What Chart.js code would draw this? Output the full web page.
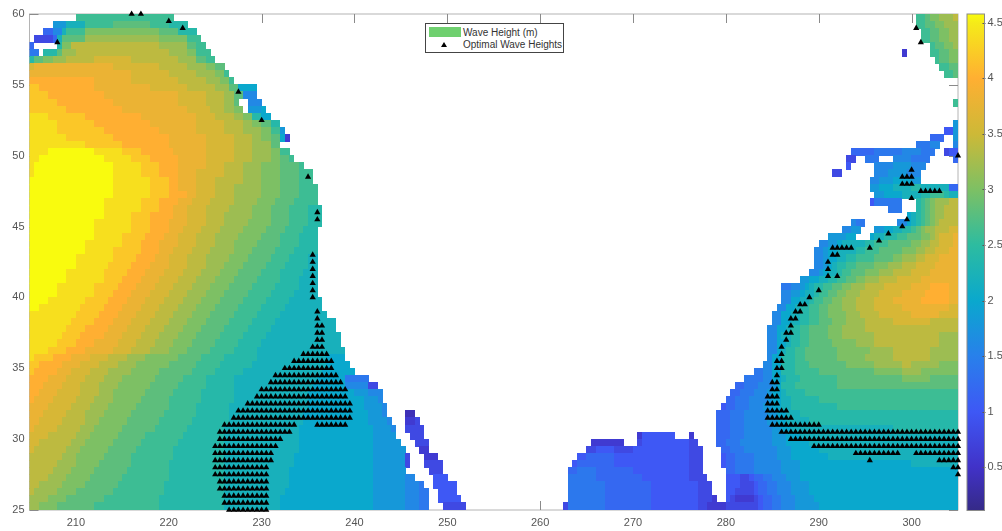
<!DOCTYPE html>
<html>
<head>
<meta charset="utf-8">
<title>Wave Height</title>
<script src="https://cdn.jsdelivr.net/npm/chart.js@4/dist/chart.umd.min.js"></script>
<style>
  html, body { margin: 0; padding: 0; background: #fff; }
  #wrap { position: relative; width: 1002px; height: 531px; overflow: hidden; font-family: "Liberation Sans", Arial, sans-serif; }
  #map { position: absolute; left: 0; top: 0; filter: blur(0.5px); }
  #bar { position: absolute; left: 960px; top: 0; filter: blur(0.4px); }
  #legend { position: absolute; left: 425px; top: 23px; width: 137px; height: 28px; background: #fff; border: 1px solid #444; font-size: 10px; color: #333; }
  #legend .patch { position: absolute; left: 3px; top: 3px; width: 32px; height: 10px; background: #6fd06f; }
  #legend .tri { position: absolute; left: 15px; top: 18px; width: 0; height: 0; border-left: 3px solid transparent; border-right: 3px solid transparent; border-bottom: 5px solid #000; }
  #legend .lab { position: absolute; left: 37px; white-space: nowrap; line-height: 12px; }
</style>
</head>
<body>
<div id="wrap">
  <canvas id="map" width="1002" height="531"></canvas>
  <canvas id="bar" width="42" height="531"></canvas>
  <div id="legend">
    <div class="patch"></div><div class="lab" style="top:3px">Wave Height (m)</div>
    <div class="tri"></div><div class="lab" style="top:15px">Optimal Wave Heights</div>
  </div>
</div>
<script>
const xTicks = [210, 220, 230, 240, 250, 260, 270, 280, 290, 300];
const yTicks = [25, 30, 35, 40, 45, 50, 55, 60];
const barTicks = [0.5, 1, 1.5, 2, 2.5, 3, 3.5, 4, 4.5];

// wave height per row, north to south, each row 0.5 deg of latitude from 60.
// token = level letter (a=0.2, b=0.4 ... w=4.6) + longitude where the run ends, "." = no data
const waveRows = [
  ".210 m220.5 .300.5 m301.5 n302 o303 p304.5 q305",
  ".207.5 i209 k211 m214 n218 m220 l222 .300.5 m301.5 n302.5 o303.5 p305",
  ".206.5 f207.5 h208.5 k209 m211 o219 n221 l223 .301 m302 n303 o304 p305",
  ".205.5 d207.5 f208 k208.5 n211 p219 o222 m223.5 .301 m302 n303 o304 p305",
  "f205.5 .208 l208.5 o209.5 q219 p222 n223 m224 .302 m302.5 n303.5 o304.5 p305",
  "g206 .206.5 l208 n208.5 p210 q220 p222 o223 m224.5 .299 c299.5 .302 m303 n304 o305",
  "l205.5 n206.5 o207.5 p209 q212 r216 q221 p223 n224 m225 .302.5 m303 n304 o305",
  "r205.5 s214 r219 q222 p224 o225 n226 .303 m304 n305",
  "s216 r220 q223 p225 o226 m226.5 .303.5 m304.5 n305",
  "t212 s216 r221 q224 p225.5 o226.5 m227",
  "u206 t212 s218 r222 q225 p226.5 n227.5 j229.5",
  "u207 t213 s221 r224 q226 p227 n228 h229.5",
  "u208 t214 s221 r224 q226 p227 n227.5 .228.5 h230 .304.5 m305",
  "u209 t215 s222 r224.5 q226 p227 o228 .228.5 i230 j230.5",
  "v207 u211 t217 s223 r225 q227 p228 o229 l230 j231",
  "v208 u212 t218 s223 r226 q228 p229 o230 n231 l232 .304.5 i305",
  "v208 u213 t219 s223 r226 q228 p230 o231 m232 i232.5 .303.5 e304.5 i305",
  "v209 u214 t220 s224 r227 q229 p230 o231 n232 j232.5 c233 .302 f303.5 .304.5 i305",
  "v211 u215 t220 s224 r227 q229 p231 n232 .300.5 g302 h303 .304.5 h305",
  "v207 w212 v215 u217 t220.5 s224 r227 q229 p231 o232 m233 .293.5 f296 g299 h301 g302.5 .303.5 d304 e305",
  "v206 w213 v216 u218 t221 s224 r227 q229 p231 o232 n233 m233.5 .293 d294 .295 g296.5 .298 h300 g302 .304.5 f305",
  "v205.5 w214 v217 u219 t221 s224 r226 q228 p230 o232 n234 m234.5 .293 e293.5 .296 h298 i300 h301.5",
  "v205.5 w214 v217 u219 t221 s223 r226 q228 p230 o232 n234 m235.5 .291.5 d292.5 .296 h297.5 i299.5 h301",
  "w214 v218 u220 t221 s223 r225 q228 p230 o232 n234 m235.5 .295.5 h296.5 i298 j300 i301",
  "w214 v218 u220 t221 s223 r225 q227 p230 o232 n234 m236 .295.5 i296.5 j298 k300 l301 k304 f305",
  "w214 v218 u220 t222 s223 r225 q227 p230 o232 n234 m236 .296 i297 j299 k301 l302 m303.5 l304 k305",
  "w213 v217 u219 t221 s222.5 r224.5 q227 p229.5 o231.5 n233.5 m236 .295.5 e296 g299 .300.5 l301 m301.5 n302 o302.5 p304 q305",
  "w213 v217 u219 t220.5 s222 r224 q226.5 p229 o231 n233 m235 l236.5 .297.5 g299 .300.5 l301 m301.5 n302 o302.5 p303.5 q305",
  "w213 v216 u218 t220.5 s222 r224 q226 p229 o231 n233 m235 l236.5 .299.5 j300 k300.5 l301 m301.5 n302 o302.5 p303.5 q305",
  "w212 v216 u218 t220 s222 r224 q226 p228.5 o231 n233 m235 l236.5 .293.5 h294 g295 .298.5 h299.5 j300 k300.5 l301 m301.5 n302 o302.5 p303 q305",
  "w212 v216 u218 t220 s221.5 r223.5 q225.5 p228 o230.5 n232.5 m234.5 l236 .292.5 h293.5 i294.5 .296 i297 j298 k299 l300 m300.5 n301 o301.5 p302.5 q304 r305",
  "w212 v215 u217.5 t219.5 s221 r223 q225 p227.5 o230 n232 m234 l236 .291 i293 j294 .295.5 j296 k297 l298.5 m299.5 n301 o302 p302.5 q303 r304.5 s305",
  "w211 v215 u217 t219 s221 r223 q225 p227 o229.5 n232 m234 l236 .290 h291 i292 j292.5 k295 l296 m297.5 n300 o301 p302 q303 r304.5 s305",
  "w211 v214 u217 t219 s220.5 r222.5 q224.5 p227 o229 n231.5 m233.5 l236 .289.5 h290.5 i291 j292 k294 l295 m296.5 n299 o300.5 p301.5 q302.5 r304 s305",
  "w210 v214 u216.5 t218.5 s220 r222 q224 p226.5 o228.5 n231 m233 l235 k236 .289.5 h290.5 i291 j292 k293 l294 m296 n298 o299 p300.5 q301.5 r303 s305",
  "w210 v213.5 u216 t218 s220 r222 q224 p226 o228 n230.5 m232.5 l235 k236 .289.5 h290.5 i291 j291.5 k292 l293 m294 n296 o297.5 p299 q300.5 r302.5 s305",
  "w209 v213 u215.5 t217.5 s219.5 r221.5 q223.5 p225.5 o227.5 n230 m232 l234.5 k236 .289 h290 i290.5 j291 k292 l292.5 m293.5 n295 o296.5 p298 q300 r302 s305",
  "w209 v213 u215 t217 s219 r221 q223 p225 o227 n229.5 m232 l234 k236 .288 i289 j290 k291 l292 m293 n294 o295 p296.5 q298.5 r301 s305",
  "w208 v212 u214.5 t216.5 s218.5 r220.5 q222.5 p224.5 o226.5 n229 m231.5 l234 k236 .286 g287 h288 i288.5 j289 k289.5 l290.5 m291.5 n292.5 o293.5 p295 q297 r300 s302 t304 s305",
  "w208 v212 u214 t216 s218 r220 q222 p224 o226 n228.5 m231 l233.5 k236 .286 h287 i288 j288.5 k289.5 l290 m291 n292 o293 p294.5 q296.5 r299 s301.5 t304 s305",
  "w207 v211 u213.5 t215.5 s217.5 r219.5 q221.5 p223.5 o225.5 n228 m230.5 l233 k236.5 .286 h287 j288 k289 l289.5 m290.5 n291.5 o292.5 p294 q296 r298 s301 t304 s305",
  "w206 v210.5 u213 t215 s217 r219 q221 p223 o225 n227.5 m230 l232.5 k236.5 .285.5 h286.5 j287.5 k288 l289 m290 n291 o292.5 p294 q296 r299 s304 r305",
  "v210 u212.5 t214.5 s216.5 r218.5 q220.5 p222.5 o224.5 n227 m229.5 l232 k237 .285 h286 j287 k288 l289 m290 n291 o293 p294.5 q296.5 r300 s303 r305",
  "v209.5 u212 t214 s216 r218 q220 p222 o224 n226.5 m229 l231.5 k238 .285 h286 j287 k288 l289 m290 n291.5 o293 p295 q298 r302 q305",
  "v209 u211 t213.5 s215.5 r217.5 q219.5 p221.5 o223.5 n226 m228.5 l231 k238 .284.5 h285.5 j286.5 k287 l288 m289 n291 o292.5 p295 q305",
  "v208.5 u210.5 t213 s215 r217 q219 p221 o223 n225.5 m228 l230.5 k238.5 .284.5 h285.5 j286 k287 l288 m289 n291 o292.5 p296 q303 p305",
  "v208 u210 t212 s214.5 r216.5 q218.5 p220.5 o222.5 n225 m227.5 l230 k238.5 .284.5 h285.5 j286.5 k287 l288 m289 n291.5 o294 p296 q303 p305",
  "v207 u209 t211 s214 r216 q218 p220 o222 n224.5 m227 l229.5 k239 .284.5 h285.5 j286 k286.5 l287.5 m288.5 n292 o295.5 p298 q302 p305",
  "v205.5 u207.5 t209.5 s211.5 r213.5 q215.5 p217.5 o221 n223.5 m226 l229.5 k237 j239 .284.5 h285 j286 l287.5 m288.5 n292 o295 p298 q302 p305",
  "u206 t208.5 s210.5 r212.5 q214.5 p216.5 o220 n223 m225.5 l229 k237 j239.5 .284 h285 j286 l287.5 m289 n293 o296 p299 q300 p303 o305",
  "u205.5 t208 s209.5 r211.5 q213.5 p216 o219 n222.5 m225 l228 k236.5 j240 .283 g284 h285 j286 l287.5 m290 n296 o299 p301 o305",
  "t207 s209 r211 q213 p215 o218.5 n221.5 m224 l227 k236 j239 g241.5 .282 g284 h285 j286 k286.5 l288 m292 n299 o302 n305",
  "t206.5 s208.5 r210.5 q212.5 p214.5 o218 n221 m224 l227 k235.5 j239 h241.5 d242.5 .281 f282 g283.5 h285 i285.5 j286 l287.5 m292 n305",
  "t206 s208 r210.5 q212.5 p214 o217.5 n220.5 m223.5 l227 k235 j240 i241.5 h243 .280.5 f281.5 g283 h284.5 i285 j286 k286.5 l288.5 m305",
  "t205.5 s207.5 r210 q212 p214 o217 n220 m223.5 l227 k235 j241 i242.5 h243 .280 f281 g282.5 h284.5 i285 j286 k287 l290 m305",
  "s207 r209.5 q211.5 p213.5 o216.5 n220 m223 l226.5 k235 j241 i243 h243.5 .279.5 e280 f281 g282.5 h284 i285 j286 k287 l292 m305",
  "s206.5 r209 q211 p213 o216 n219.5 m223 l226.5 k234.5 j241.5 i243 h243.5 .245.5 b246.5 .279 f280.5 g282 h284.5 i285.5 j286.5 k288 l305",
  "s206 r208.5 q211 p212.5 o215.5 n219 m222.5 l226.5 k234.5 j241.5 i243.5 h244 .245.5 c246.5 d247 .279 f280.5 g282 h284.5 i285.5 j286.5 k289 l305",
  "s205.5 r208 q210.5 p212 o215 n218.5 m222 l226 k234 j242 i244 h244.5 .245.5 d247.5 .279 f280.5 g282 h285 i286 j287 k298 l305",
  "r207 q210 p211.5 o214.5 n217.5 m221.5 l226 k234 j242 i244.5 .246 d247.5 .270.5 c271 e274.5 .276 c276.5 .279 f280.5 g282 h285 i286.5 j288 k305",
  "r206 q209.5 p211 o214 n217 m221 l226 k234 j242 i245 .246.5 d248 .265.5 c269 .270.5 d271 e276 d277 .279 f280 g281.5 h285 i286.5 j289 k305",
  "r205.5 q209 p210.5 o213.5 n216.5 m220.5 l226 k234 j242 i245.5 .247 c248 .265 d266 e268 d270 e276 d277.5 .279.5 f280.5 g282 h285.5 i287 j290 k305",
  "q208.5 p210 o213 n216 m220.5 l226 k233.5 j242 i245.5 d246 .247.5 c249 .264 e265 f268 e276 d277.5 .279.5 e280 f281 g283 h285.5 i287 j291 k305",
  "q208 p210 o212.5 n216 m220 l226 k233.5 j242 i245.5 d246 .247.5 d249.5 .263.5 e264 f268 e276 d277.5 .279.5 e280 f281 g283 h286 i288 j300 k305",
  "q207.5 p209.5 o212 n215.5 m220 l226 k233 j242 i245.5 .248 d249.5 .263 f264 g266 f270 e276 d277.5 .280 f281 g283 h286 i288 j305",
  "q207 p209 o211.5 n215 m220 l226 k233 j242 i245.5 h246.5 .248.5 e250 .263 g266 f271 e276 d278 .280 e281.5 d282.5 e283 f284 g285 h286.5 i288 j305",
  "q206 p208.5 o211 n214.5 m219.5 l226 k233 j242 i245.5 h247 g247.5 .248.5 e251 .263 g267 f272 e277 d278.5 .280 e281.5 d283 e283.5 f284.5 g285.5 h287 i289 j305",
  "q205.5 p208 o210 n214 m219.5 l226 k232.5 j242 i245.5 h247 g248 .249 e251 .263 g267 f272 e277 d278.5 .280 e281 d283 e283.5 f284.5 g285.5 h287 i289 j305",
  "p207 o209 n213 m219 l226 k232 j242 i245.5 h247 g248 .249 e251.5 .263 g267 f272 e277 d278.5 c279 .280 e280.5 d281 c283 d283.5 e284 f285 g286 h287.5 i289.5 j305",
  "p206 o208 n212 m219 l226 k232 j242 i245.5 h247 g248 .249.5 d252 .262.5 d263 g267 f272 e277 d278 c280 d283.5 e284 f285 g286 h287.5 i290 j305"
];

// optimal wave heights: latitude, then longitudes (a-b = every 0.5 deg between)
const optimalRows = [
  [60, "216 217"], [59.5, "220"], [59, "221.5 300.5"], [58, "208 301"], [54.5, "227.5"], [52.5, "230"],
  [50, "305"], [49, "300"], [48.5, "235 299-300"], [48, "299-300"], [47.5, "301-303"], [47, "300"],
  [46, "236"], [45.5, "236 299.5"], [45, "299"], [44.5, "297.5"], [44, "296.5"], [43.5, "291.5-293.5 295.5"],
  [43, "235.5 291.5-292"], [42.5, "235.5 291"], [42, "235.5 291"], [41.5, "235.5 291 292"], [41, "235.5"],
  [40.5, "235.5 290"], [40, "235.5 289"], [39.5, "288-288.5"], [39, "236 287.5-288"], [38.5, "236 287-287.5"],
  [38, "236-236.5 287"], [37.5, "236-236.5 286.5-287"], [37, "236-236.5 286.5"], [36.5, "235.5-236.5 286"],
  [36, "234.5-237 286"], [35.5, "233.5-237.5 285.5-286"], [35, "232.5-237.5 285.5-286"], [34.5, "231.5-238 285.5"],
  [34, "231-238.5 285-285.5"], [33.5, "230-239 285-285.5"], [33, "229.5-239 284.5-285.5"], [32.5, "228.5-239.5 284.5-285.5"],
  [32, "227.5-239.5 284.5-286.5"], [31.5, "227-239.5 284.5-287"], [31, "226-233.5 236-239 285-290"],
  [30.5, "225.5-233 286-305"], [30, "225.5-232 287-305"], [29.5, "225-231.5 289.5-305"], [29, "225-231 294-298.5 300.5-305"],
  [28.5, "225-231 295.5 303-305"], [28, "225-230.5 304.5-305"], [27.5, "225-230.5 305"], [27, "225.5-230.5"],
  [26.5, "225.5-230.5"], [26, "226-230.5"], [25.5, "226-230.5"], [25, "226.5-230.5"]
];

// colour ramp
const rampStops = [
  [0.11, 53, 42, 135], [0.5, 65, 50, 200], [1, 62, 88, 245], [1.5, 40, 128, 235], [2, 10, 168, 205],
  [2.5, 45, 188, 160], [3, 125, 192, 100], [3.5, 205, 185, 55], [4, 255, 175, 50], [4.5, 245, 235, 25], [4.58, 249, 251, 14]
];
const barMin = 0.11, barMax = 4.58;

function rampColor(v) {
  for (let i = 1; i < rampStops.length; i++) {
    const a = rampStops[i - 1], b = rampStops[i];
    if (v <= b[0]) {
      const t = Math.max(0, (v - a[0]) / (b[0] - a[0]));
      return `rgb(${[1, 2, 3].map(k => Math.round(a[k] + (b[k] - a[k]) * t)).join(",")})`;
    }
  }
  return "rgb(249,251,14)";
}

const cellImages = {};
function cellImage(v) {
  if (!cellImages[v]) {
    const c = document.createElement("canvas");
    c.width = 5;
    c.height = 8;
    const g = c.getContext("2d");
    g.fillStyle = rampColor(v);
    g.fillRect(0, 0, 5, 8);
    cellImages[v] = c;
  }
  return cellImages[v];
}

const cells = [];
waveRows.forEach((row, r) => {
  let lon = 205;
  row.split(" ").forEach(tok => {
    const end = parseFloat(tok.slice(1));
    if (tok[0] !== ".") {
      const v = (tok.charCodeAt(0) - 96) * 0.2;
      for (let x = lon; x < end; x += 0.5) cells.push({ x: x + 0.25, y: 60 - r * 0.5 - 0.25, v: v });
    }
    lon = end;
  });
});

const optimal = [];
optimalRows.forEach(([lat, lons]) => {
  lons.split(" ").forEach(part => {
    const [a, b] = part.split("-").map(Number);
    for (let x = a; x <= (b || a); x += 0.5) optimal.push({ x: x, y: lat });
  });
});

// matlab style box and inward ticks, under the data
const boxPlugin = {
  id: "box",
  beforeDatasetsDraw(chart) {
    const { ctx, chartArea: a, scales } = chart;
    ctx.save();
    ctx.strokeStyle = "#b4b4b4";
    ctx.lineWidth = 1;
    ctx.strokeRect(a.left, a.top, a.right - a.left, a.bottom - a.top);
    ctx.strokeStyle = "#8a8a8a";
    ctx.beginPath();
    xTicks.forEach(v => {
      const x = Math.round(scales.x.getPixelForValue(v)) + 0.5;
      ctx.moveTo(x, a.top); ctx.lineTo(x, a.top + 9);
      ctx.moveTo(x, a.bottom); ctx.lineTo(x, a.bottom - 9);
    });
    yTicks.forEach(v => {
      const y = Math.round(scales.y.getPixelForValue(v)) + 0.5;
      ctx.moveTo(a.left, y); ctx.lineTo(a.left + 9, y);
      ctx.moveTo(a.right, y); ctx.lineTo(a.right - 9, y);
    });
    ctx.stroke();
    ctx.restore();
  }
};

new Chart(document.getElementById("map"), {
  type: "scatter",
  plugins: [boxPlugin],
  data: {
    datasets: [
      {
        label: "Optimal Wave Heights",
        data: optimal,
        order: 0,
        clip: false,
        pointStyle: "triangle",
        pointRadius: 3.6,
        pointBorderWidth: 0,
        pointBackgroundColor: "#000",
      },
      {
        label: "Wave Height (m)",
        data: cells,
        order: 1,
        pointRadius: 2,
        pointBorderWidth: 0,
        pointStyle: ctx => cellImage(ctx.raw ? ctx.raw.v : 3),
      },
    ],
  },
  options: {
    responsive: false,
    animation: false,
    events: [],
    layout: { padding: { top: 14, right: 44, left: 0, bottom: 0 } },
    plugins: { legend: { display: false }, tooltip: { enabled: false } },
    scales: {
      x: {
        type: "linear",
        min: 205,
        max: 305,
        afterBuildTicks: s => { s.ticks = xTicks.map(v => ({ value: v })); },
        afterFit: s => { s.height = 21; },
        grid: { display: false, drawTicks: false },
        border: { display: false },
        ticks: { color: "#555", font: { family: "Liberation Sans", size: 11 }, padding: 6, maxRotation: 0, autoSkip: false },
      },
      y: {
        type: "linear",
        min: 25,
        max: 60,
        afterBuildTicks: s => { s.ticks = yTicks.map(v => ({ value: v })); },
        afterFit: s => { s.width = 29.5; },
        grid: { display: false, drawTicks: false },
        border: { display: false },
        ticks: { color: "#555", font: { family: "Liberation Sans", size: 11 }, padding: 5, autoSkip: false },
      },
    },
  },
});

// colour bar is one floating bar filled with the ramp
const barTickPlugin = {
  id: "barTicks",
  afterDatasetsDraw(chart) {
    const { ctx, chartArea: a, scales } = chart;
    ctx.save();
    ctx.strokeStyle = "#555";
    ctx.beginPath();
    barTicks.forEach(v => {
      const y = Math.round(scales.y.getPixelForValue(v)) + 0.5;
      ctx.moveTo(a.right - 2, y); ctx.lineTo(a.right + 1, y);
    });
    ctx.stroke();
    ctx.strokeStyle = "#8a8a8a";
    ctx.strokeRect(a.left, a.top, a.right - a.left, a.bottom - a.top);
    ctx.restore();
  }
};

new Chart(document.getElementById("bar"), {
  type: "bar",
  plugins: [barTickPlugin],
  data: {
    labels: ["Wave Height (m)"],
    datasets: [{
      data: [[barMin, barMax]],
      barPercentage: 1,
      categoryPercentage: 1,
      backgroundColor: ctx => {
        const a = ctx.chart.chartArea;
        if (!a) return "#888";
        const g = ctx.chart.ctx.createLinearGradient(0, a.bottom, 0, a.top);
        rampStops.forEach(s => g.addColorStop((s[0] - barMin) / (barMax - barMin), rampColor(s[0])));
        return g;
      },
    }],
  },
  options: {
    responsive: false,
    animation: false,
    events: [],
    layout: { padding: { top: 14, right: 0, left: 7, bottom: 20.5 } },
    plugins: { legend: { display: false }, tooltip: { enabled: false } },
    scales: {
      x: { display: false },
      y: {
        position: "right",
        min: barMin,
        max: barMax,
        afterBuildTicks: s => { s.ticks = barTicks.map(v => ({ value: v })); },
        afterFit: s => { s.width = 17.5; },
        grid: { display: false, drawTicks: false },
        border: { display: false },
        ticks: { color: "#555", font: { family: "Liberation Sans", size: 11 }, padding: 3, autoSkip: false, callback: v => String(v) },
      },
    },
  },
});
</script>
</body>
</html>
